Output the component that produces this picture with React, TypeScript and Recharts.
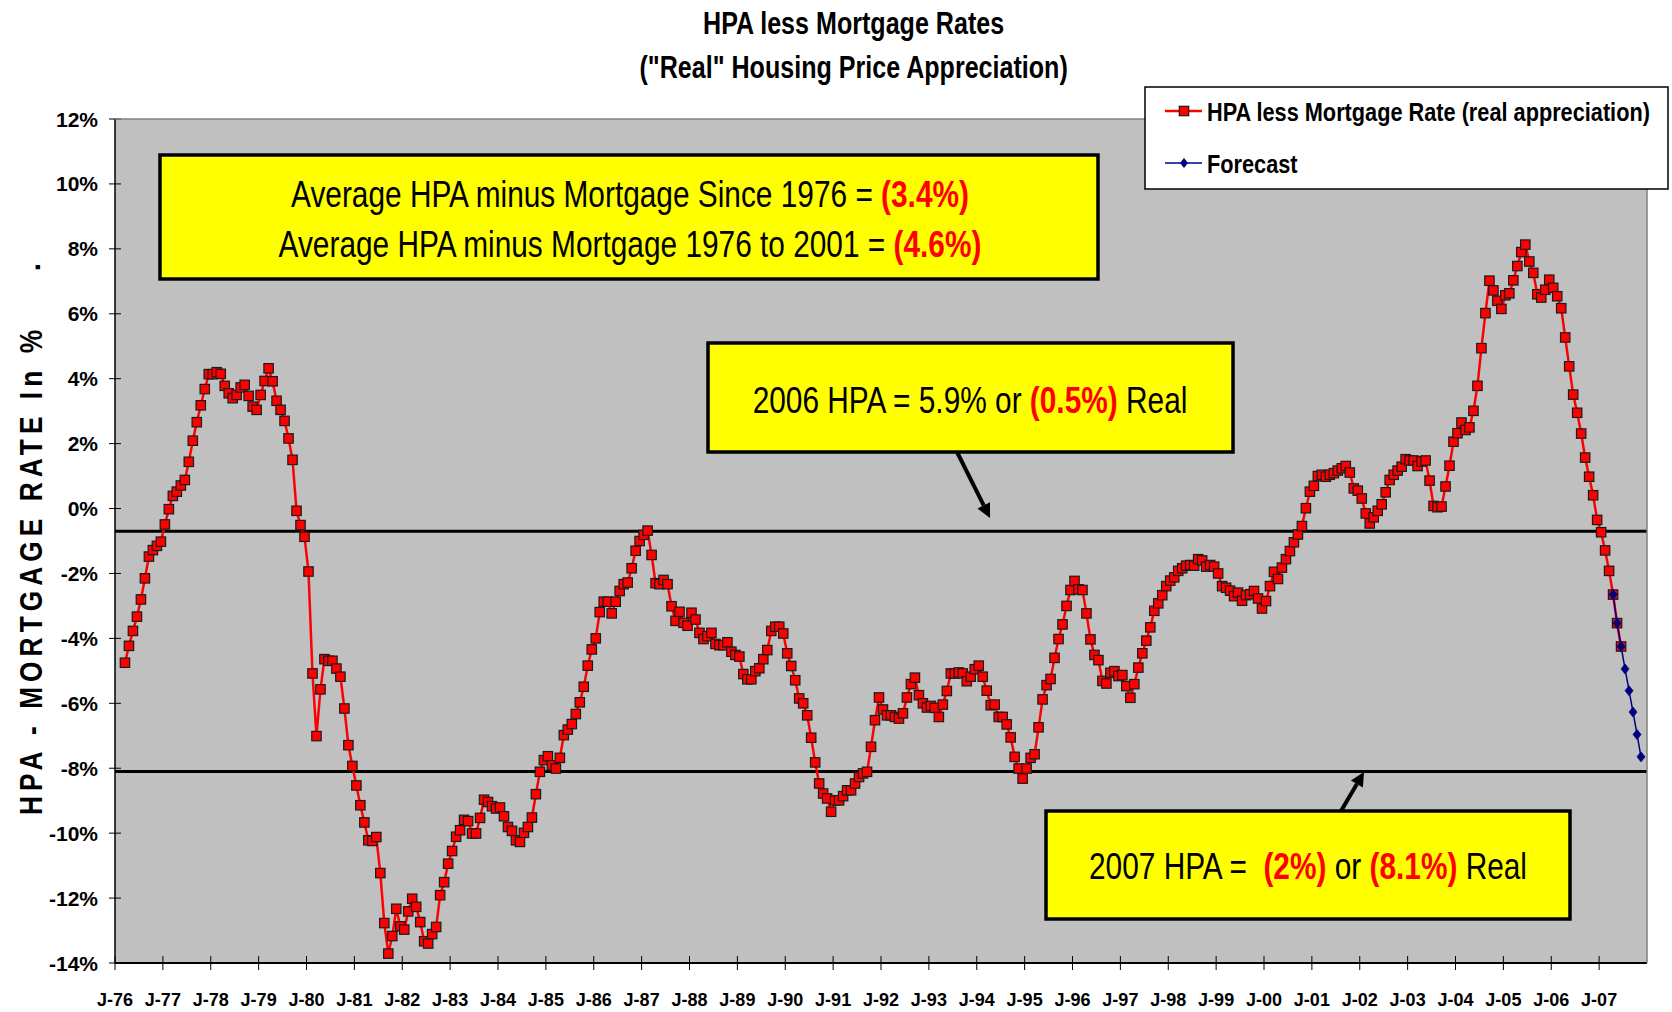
import React from 'react';
import { LineChart, Line, XAxis, YAxis, ReferenceLine, CartesianGrid } from 'recharts';

// ---------- chart values ----------
const tickLabels = ['J-76','J-77','J-78','J-79','J-80','J-81','J-82','J-83','J-84','J-85','J-86','J-87','J-88','J-89','J-90','J-91','J-92','J-93','J-94','J-95','J-96','J-97','J-98','J-99','J-00','J-01','J-02','J-03','J-04','J-05','J-06','J-07'];
const yTicks = [12, 10, 8, 6, 4, 2, 0, -2, -4, -6, -8, -10, -12, -14];
const FIRST_YEAR = 1976;
const REAL_START_MONTH = 2; // March 1976
const FORECAST_START = { year: 2007, month: 3 }; // April 2007
const refLevels = [-0.7, -8.1];

const real1976 = [-4.75, -4.23, -3.77, -3.33, -2.80, -2.15, -1.48, -1.28, -1.15, -1.02];
const real1977 = [-0.49, -0.02, 0.39, 0.52, 0.71, 0.88, 1.44, 2.09, 2.66, 3.18, 3.68, 4.14];
const real1978 = [4.14, 4.20, 4.15, 3.78, 3.55, 3.40, 3.50, 3.73, 3.81, 3.47, 3.14, 3.04];
const real1979 = [3.50, 3.93, 4.32, 3.92, 3.32, 3.04, 2.70, 2.16, 1.50, -0.07, -0.51, -0.87];
const real1980 = [-1.94, -5.08, -7.01, -5.57, -4.64, -4.69, -4.69, -4.93, -5.18, -6.16, -7.29, -7.93];
const real1981 = [-8.53, -9.14, -9.67, -10.22, -10.24, -10.12, -11.23, -12.77, -13.71, -13.17, -12.33, -12.87];
const real1982 = [-12.97, -12.41, -12.02, -12.27, -12.74, -13.33, -13.40, -13.11, -12.89, -11.91, -11.51, -10.94];
const real1983 = [-10.55, -10.11, -9.91, -9.59, -9.63, -10.01, -10.01, -9.53, -8.97, -9.04, -9.17, -9.24];
const real1984 = [-9.21, -9.48, -9.81, -9.93, -10.22, -10.27, -9.99, -9.81, -9.52, -8.80, -8.11, -7.75];
const real1985 = [-7.63, -7.91, -8.01, -7.68, -6.98, -6.81, -6.64, -6.33, -5.97, -5.49, -4.84, -4.34];
const real1986 = [-4.00, -3.19, -2.87, -2.87, -3.23, -2.87, -2.54, -2.33, -2.28, -1.84, -1.30, -1.00];
const real1987 = [-0.81, -0.68, -1.43, -2.30, -2.33, -2.20, -2.33, -3.01, -3.46, -3.18, -3.52, -3.61];
const real1988 = [-3.21, -3.42, -3.83, -4.02, -3.93, -3.83, -4.17, -4.21, -4.21, -4.12, -4.41, -4.51];
const real1989 = [-4.56, -5.10, -5.26, -5.26, -5.01, -4.92, -4.64, -4.36, -3.77, -3.64, -3.64, -3.85];
const real1990 = [-4.46, -4.85, -5.29, -5.85, -6.00, -6.37, -7.06, -7.82, -8.47, -8.78, -8.93, -9.34];
const real1991 = [-8.99, -8.99, -8.86, -8.68, -8.68, -8.47, -8.27, -8.16, -8.11, -7.34, -6.52, -5.82];
const real1992 = [-6.19, -6.37, -6.37, -6.42, -6.47, -6.31, -5.82, -5.41, -5.21, -5.75, -6.00, -6.13];
const real1993 = [-6.08, -6.14, -6.42, -6.04, -5.62, -5.08, -5.08, -5.05, -5.08, -5.32, -5.18, -4.95];
const real1994 = [-4.84, -5.18, -5.61, -6.06, -6.04, -6.42, -6.42, -6.65, -7.05, -7.65, -8.01, -8.32];
const real1995 = [-8.01, -7.68, -7.57, -6.74, -5.88, -5.44, -5.25, -4.60, -4.02, -3.57, -3.00, -2.51];
const real1996 = [-2.23, -2.49, -2.51, -3.23, -4.03, -4.51, -4.67, -5.31, -5.39, -5.06, -5.01, -5.16];
const real1997 = [-5.13, -5.47, -5.83, -5.41, -4.90, -4.46, -4.07, -3.66, -3.15, -2.92, -2.67, -2.39];
const real1998 = [-2.22, -2.12, -1.92, -1.84, -1.76, -1.74, -1.76, -1.56, -1.60, -1.79, -1.74, -1.79];
const real1999 = [-2.00, -2.39, -2.44, -2.53, -2.70, -2.59, -2.84, -2.67, -2.64, -2.54, -2.77, -3.08];
const real2000 = [-2.85, -2.39, -1.95, -2.17, -1.82, -1.56, -1.31, -1.04, -0.80, -0.54, 0.01, 0.52];
const real2001 = [0.70, 1.00, 1.04, 0.98, 1.04, 1.09, 1.17, 1.24, 1.31, 1.11, 0.62, 0.55];
const real2002 = [0.31, -0.15, -0.46, -0.27, -0.07, 0.13, 0.50, 0.88, 1.04, 1.17, 1.29, 1.52];
const real2003 = [1.48, 1.48, 1.31, 1.45, 1.48, 0.86, 0.08, 0.04, 0.06, 0.68, 1.32, 2.06];
const real2004 = [2.32, 2.65, 2.42, 2.50, 3.01, 3.78, 4.94, 6.02, 7.02, 6.72, 6.40, 6.15];
const real2005 = [6.57, 6.63, 7.03, 7.47, 7.90, 8.13, 7.61, 7.26, 6.60, 6.50, 6.74, 7.05];
const real2006 = [6.80, 6.54, 6.17, 5.27, 4.38, 3.51, 2.95, 2.31, 1.57, 0.98, 0.41, -0.35];
const real2007 = [-0.73, -1.29, -1.92, -2.65, -3.53, -4.25];
const forecast2007 = [-2.65, -3.53, -4.25, -4.94, -5.61, -6.27, -6.96, -7.65];

const realYears = [real1976, real1977, real1978, real1979, real1980, real1981, real1982, real1983, real1984, real1985, real1986, real1987, real1988, real1989, real1990, real1991, real1992, real1993, real1994, real1995, real1996, real1997, real1998, real1999, real2000, real2001, real2002, real2003, real2004, real2005, real2006, real2007];

// ---------- layout ----------
const W = 1672;
const H = 1012;
const PLOT = { left: 115, top: 119, right: 1647, bottom: 963 };
const MONTHS = tickLabels.length * 12;
const ARIAL = "'Liberation Sans', Arial, sans-serif";
const NARROW_SCALE = 0.82;

type Row = { x: number; real: number | null; forecast: number | null };
const data: Row[] = Array.from({ length: MONTHS }, (_, i) => ({ x: i + 0.5, real: null, forecast: null }));
{
  let idx = REAL_START_MONTH;
  realYears.forEach((arr) => arr.forEach((v) => { data[idx].real = v; idx++; }));
  let f = (FORECAST_START.year - FIRST_YEAR) * 12 + FORECAST_START.month;
  forecast2007.forEach((v) => { data[f].forecast = v; f++; });
}
const xTicks = tickLabels.map((_, i) => i * 12);

const SquareDot = (props: any) => {
  const { cx, cy, index } = props;
  if (cx == null || cy == null || props.value == null) return <g key={`s${index}`} />;
  return <rect key={`s${index}`} x={cx - 4.7} y={cy - 4.7} width={9.4} height={9.4} fill="#FF0000" stroke="#1a1a1a" strokeWidth={1.2} />;
};
const DiamondDot = (props: any) => {
  const { cx, cy, index } = props;
  if (cx == null || cy == null || props.value == null) return <g key={`d${index}`} />;
  return <path key={`d${index}`} d={`M${cx},${cy - 5} L${cx + 4},${cy} L${cx},${cy + 5} L${cx - 4},${cy} Z`} fill="#000080" stroke="#000080" strokeWidth={0.8} />;
};

const YTick = (props: any) => {
  const { y, payload } = props;
  return (
    <g>
      <line x1={PLOT.left - 6} x2={PLOT.left + 6} y1={y} y2={y} stroke="#000" strokeWidth={1} />
      <text x={98} y={y} dy="0.36em" textAnchor="end" fontFamily={ARIAL} fontWeight="bold" fontSize={21} fill="#000">{`${payload.value}%`}</text>
    </g>
  );
};
const XTick = (props: any) => {
  const { x, payload } = props;
  const label = tickLabels[Math.round(payload.value / 12)];
  return (
    <g>
      <line x1={x} x2={x} y1={PLOT.bottom - 7} y2={PLOT.bottom + 7} stroke="#000" strokeWidth={1} />
      <text x={x} y={1005.5} textAnchor="middle" fontFamily={ARIAL} fontWeight="bold" fontSize={18} fill="#000">{label}</text>
    </g>
  );
};

const Narrow = ({ x, y, size, bold, anchor = 'start', children }: any) => (
  <g transform={`translate(${x},${y}) scale(${NARROW_SCALE},1)`}>
    <text x={0} y={0} textAnchor={anchor} fontFamily={ARIAL} fontSize={size} fontWeight={bold ? 'bold' : 'normal'} fill="#000" style={{ whiteSpace: 'pre' }}>
      {children}
    </text>
  </g>
);

const Arrow = ({ x1, y1, x2, y2 }: { x1: number; y1: number; x2: number; y2: number }) => {
  const ang = Math.atan2(y2 - y1, x2 - x1);
  const L = 14, Wd = 7;
  const bx = x2 - L * Math.cos(ang), by = y2 - L * Math.sin(ang);
  const px = -Math.sin(ang) * Wd, py = Math.cos(ang) * Wd;
  return (
    <g>
      <line x1={x1} y1={y1} x2={bx} y2={by} stroke="#000" strokeWidth={4} />
      <path d={`M${x2},${y2} L${bx + px},${by + py} L${bx - px},${by - py} Z`} fill="#000" />
    </g>
  );
};

const RED = { fill: '#FF0000', fontWeight: 'bold' } as const;

const Overlay = () => (
  <svg width={W} height={H} style={{ position: 'absolute', left: 0, top: 0, pointerEvents: 'none' }}>
    {/* plot frame top / right */}
    <line x1={PLOT.left} x2={PLOT.right} y1={PLOT.top} y2={PLOT.top} stroke="#808080" strokeWidth={1.5} />
    <line x1={PLOT.right} x2={PLOT.right} y1={PLOT.top} y2={PLOT.bottom} stroke="#808080" strokeWidth={1.5} />

    {/* title */}
    <Narrow x={853.6} y={34} size={30.6} bold anchor="middle">HPA less Mortgage Rates</Narrow>
    <Narrow x={853.6} y={78} size={30.6} bold anchor="middle">("Real" Housing Price Appreciation)</Narrow>

    {/* y axis title */}
    <g transform={`translate(42,570) rotate(-90) scale(${NARROW_SCALE},1)`}>
      <text x={0} y={0} textAnchor="middle" fontFamily={ARIAL} fontWeight="bold" fontSize={32} letterSpacing={6.2}>HPA - MORTGAGE RATE In %</text>
    </g>
    <g transform={`translate(40,267) rotate(-90)`}>
      <text x={0} y={0} textAnchor="middle" fontFamily={ARIAL} fontWeight="bold" fontSize={30}>.</text>
    </g>

    {/* legend */}
    <rect x={1145} y={87} width={523} height={102} fill="#fff" stroke="#000" strokeWidth={1.5} />
    <line x1={1165} x2={1202} y1={111} y2={111} stroke="#FF0000" strokeWidth={2.5} />
    <rect x={1179.3} y={106.3} width={9.4} height={9.4} fill="#FF0000" stroke="#1a1a1a" strokeWidth={1.2} />
    <Narrow x={1207} y={120.5} size={26.5} bold>HPA less Mortgage Rate (real appreciation)</Narrow>
    <line x1={1165} x2={1202} y1={163} y2={163} stroke="#000080" strokeWidth={1.5} />
    <path d="M1184,158 L1188,163 L1184,168 L1180,163 Z" fill="#000080" />
    <Narrow x={1207} y={172.5} size={26.5} bold>Forecast</Narrow>

    {/* box 1 */}
    <rect x={160} y={155} width={938} height={124} fill="#FFFF00" stroke="#000" strokeWidth={3.5} />
    <Narrow x={630} y={207} size={36.4} anchor="middle">
      Average HPA minus Mortgage Since 1976 = <tspan {...RED}>(3.4%)</tspan>
    </Narrow>
    <Narrow x={630} y={257} size={36.4} anchor="middle">
      Average HPA minus Mortgage 1976 to 2001 = <tspan {...RED}>(4.6%)</tspan>
    </Narrow>

    {/* box 2 */}
    <rect x={708} y={343} width={525} height={109} fill="#FFFF00" stroke="#000" strokeWidth={3.5} />
    <Narrow x={970} y={412.5} size={36.4} anchor="middle">
      2006 HPA = 5.9% or <tspan {...RED}>(0.5%)</tspan> Real
    </Narrow>
    <Arrow x1={957} y1={452} x2={990} y2={518} />

    {/* box 3 */}
    <rect x={1046} y={811} width={524} height={108} fill="#FFFF00" stroke="#000" strokeWidth={3.5} />
    <Narrow x={1308} y={878.5} size={36.4} anchor="middle">
      {'2007 HPA =  '}<tspan {...RED}>(2%)</tspan>{' or '}<tspan {...RED}>(8.1%)</tspan>{' Real'}
    </Narrow>
    <Arrow x1={1341} y1={811} x2={1364} y2={772} />
  </svg>
);

export default function App() {
  return (
    <div style={{ position: 'absolute', left: 0, top: 0, width: W, height: H, background: '#fff', overflow: 'hidden' }}>
      <LineChart width={W} height={H} data={data} margin={{ top: PLOT.top, right: W - PLOT.right, bottom: 0, left: 0 }}>
        <CartesianGrid horizontal={false} vertical={false} fill="#C0C0C0" stroke="none" />
        <XAxis
          dataKey="x"
          type="number"
          domain={[0, MONTHS]}
          ticks={xTicks}
          interval={0}
          height={H - PLOT.bottom}
          tick={<XTick />}
          tickLine={false}
          axisLine={{ stroke: '#000', strokeWidth: 2 }}
          allowDataOverflow
        />
        <YAxis
          type="number"
          domain={[-14, 12]}
          ticks={yTicks}
          interval={0}
          width={PLOT.left}
          tick={<YTick />}
          tickLine={false}
          axisLine={{ stroke: '#000', strokeWidth: 1.5 }}
          allowDataOverflow
        />
        {refLevels.map((v) => (
          <ReferenceLine key={v} y={v} stroke="#000" strokeWidth={3} />
        ))}
        <Line dataKey="real" type="linear" stroke="#FF0000" strokeWidth={2.5} dot={SquareDot} activeDot={false} isAnimationActive={false} connectNulls={false} />
        <Line dataKey="forecast" type="linear" stroke="#000080" strokeWidth={1.5} dot={DiamondDot} activeDot={false} isAnimationActive={false} connectNulls={false} />
      </LineChart>
      <Overlay />
    </div>
  );
}
